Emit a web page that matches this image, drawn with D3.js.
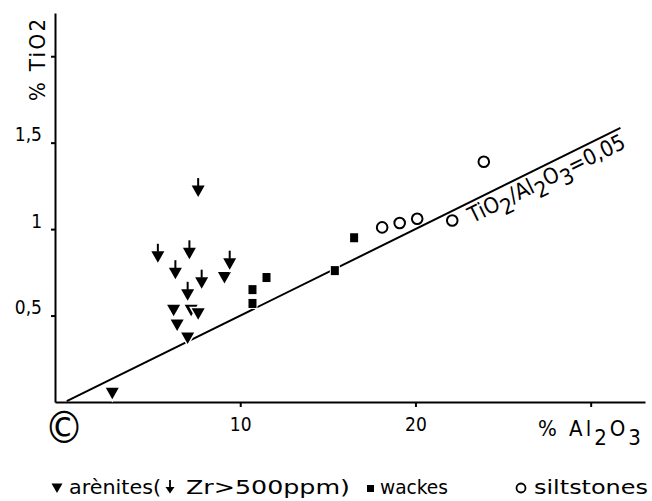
<!DOCTYPE html>
<html>
<head>
<meta charset="utf-8">
<script src="https://cdn.jsdelivr.net/npm/d3@7"></script>
<style>
body { margin: 0; background: #fff; }
text { font-family: "DejaVu Sans Condensed", "DejaVu Sans", sans-serif; fill: #000; }
</style>
</head>
<body>
<div id="chart"></div>
<script>
var width = 652, height = 501;

// arenites (plain triangles)
var areniteX = [2.7, 6.2, 7.2, 7.6, 6.4, 7.0, 9.1];
var areniteY = [0.05, 0.53, 0.53, 0.51, 0.445, 0.37, 0.72];
// arenites with Zr > 500 ppm (triangle with arrow stem)
var zrX = [7.6, 5.3, 7.1, 9.4, 6.3, 7.8, 7.0];
var zrY = [1.22, 0.84, 0.86, 0.80, 0.745, 0.69, 0.62];
// wackes (squares)
var wackeX = [11.5, 10.7, 10.7, 15.4, 16.5];
var wackeY = [0.72, 0.65, 0.57, 0.76, 0.95];
// siltstones (open circles)
var siltX = [18.1, 19.1, 20.1, 22.1, 23.9];
var siltY = [1.01, 1.035, 1.06, 1.05, 1.39];

// reference line TiO2/Al2O3 = 0,05
var lineRatio = 0.05;
var lineX = [0.1, 31.7];

var xTicks = [10, 20, 30];
var xTickLabels = ["10", "20", ""];
var yTicks = [0.5, 1, 1.5, 2];
var yTickLabels = ["0,5", "1", "1,5", ""];

var svg = d3.select("#chart")
    .append("svg")
        .attr("width", width)
        .attr("height", height);

var xScale = d3.scaleLinear().domain([-0.57, 33.1]).range([55, 645]);
var yScale = d3.scaleLinear().domain([0, 2.25]).range([402, 13]);

// x axis
var xAxis = svg.append("g")
    .attr("transform", "translate(0," + yScale(0) + ")")
    .call(d3.axisBottom(xScale)
        .tickValues(xTicks)
        .tickSize(5)
        .tickSizeOuter(0)
        .tickPadding(11)
        .tickFormat(function(d, i) { return xTickLabels[i]; }));

// y axis
var yAxis = svg.append("g")
    .attr("transform", "translate(" + xScale(-0.57) + ",0)")
    .call(d3.axisLeft(yScale)
        .tickValues(yTicks)
        .tickSize(4)
        .tickSizeOuter(0)
        .tickPadding(9)
        .tickFormat(function(d, i) { return yTickLabels[i]; }));
yAxis.selectAll(".tick text").attr("dy", "-0.1em");

[xAxis, yAxis].forEach(function(g) {
    g.attr("font-family", null).attr("font-size", null);
    g.select(".domain").attr("stroke-width", 2);
    g.selectAll(".tick line").attr("stroke-width", 2);
    g.selectAll(".tick text").style("font-size", "19px");
});

// ratio line
var line = d3.line()
    .x(function(d) { return xScale(d); })
    .y(function(d) { return yScale(d * lineRatio); });
svg.append("path")
    .datum(lineX)
    .attr("d", line)
    .attr("fill", "none")
    .attr("stroke", "#000")
    .attr("stroke-width", 2);

// line label
var angle = Math.atan2(yScale(0) - yScale(lineRatio * 10), xScale(10) - xScale(0)) * 180 / Math.PI;
var lab = svg.append("text")
    .attr("transform", "translate(" + xScale(22.6) + "," + yScale(22.6 * lineRatio) + ") rotate(" + (-angle) + ")")
    .attr("x", 3).attr("y", 20)
    .style("font-size", "22px");
lab.append("tspan").text("TiO");
lab.append("tspan").attr("dy", "0.35em").text("2");
lab.append("tspan").attr("dy", "-0.35em").text("/Al");
lab.append("tspan").attr("dy", "0.35em").text("2");
lab.append("tspan").attr("dy", "-0.35em").text("O");
lab.append("tspan").attr("dy", "0.35em").text("3");
lab.append("tspan").attr("dy", "-0.35em").text("=0,05");

// markers
var triPath = "M-6.5,-5.5L6.5,-5.5L0,6Z";

svg.append("g").selectAll("path")
    .data(d3.range(areniteX.length))
    .enter()
    .append("path")
        .attr("transform", function(i) { return "translate(" + xScale(areniteX[i]) + "," + yScale(areniteY[i]) + ")"; })
        .attr("d", triPath)
        .attr("fill", "#000")
        .attr("stroke", "#fff")
        .attr("stroke-width", 3)
        .attr("paint-order", "stroke");

var zr = svg.append("g").selectAll("g")
    .data(d3.range(zrX.length))
    .enter()
    .append("g")
        .attr("transform", function(i) { return "translate(" + xScale(zrX[i]) + "," + yScale(zrY[i]) + ")"; });
zr.append("path")
    .attr("d", triPath)
    .attr("fill", "#000")
    .attr("stroke", "#fff")
    .attr("stroke-width", 3)
    .attr("paint-order", "stroke");
zr.append("line")
    .attr("x1", 0).attr("x2", 0)
    .attr("y1", -5).attr("y2", -13)
    .attr("stroke", "#000")
    .attr("stroke-width", 2);

svg.append("g").selectAll("rect")
    .data(d3.range(wackeX.length))
    .enter()
    .append("rect")
        .attr("x", function(i) { return xScale(wackeX[i]) - 4; })
        .attr("y", function(i) { return yScale(wackeY[i]) - 4.5; })
        .attr("width", 8)
        .attr("height", 9)
        .attr("fill", "#000")
        .attr("stroke", "#fff")
        .attr("stroke-width", 2)
        .attr("paint-order", "stroke");

svg.append("g").selectAll("circle")
    .data(d3.range(siltX.length))
    .enter()
    .append("circle")
        .attr("cx", function(i) { return xScale(siltX[i]); })
        .attr("cy", function(i) { return yScale(siltY[i]); })
        .attr("r", 5.3)
        .attr("fill", "#fff")
        .attr("stroke", "#000")
        .attr("stroke-width", 2);

// axis titles
svg.append("text")
    .attr("transform", "translate(45,101) rotate(-90)")
    .attr("textLength", 82)
    .style("font-size", "22px")
    .text("% TiO2");

var xTitle = svg.append("text")
    .attr("x", 538).attr("y", 436)
    .style("font-size", "22px")
    .style("letter-spacing", "3px");
xTitle.append("tspan").text("% Al");
xTitle.append("tspan").attr("dy", "0.4em").text("2");
xTitle.append("tspan").attr("dy", "-0.4em").text("O");
xTitle.append("tspan").attr("dy", "0.4em").text("3");

svg.append("text")
    .attr("x", 64).attr("y", 443)
    .attr("text-anchor", "middle")
    .style("font-size", "44px")
    .text("\u00a9");

// legend
var legY = 494;
var leg = svg.append("g");
function legText(x, len, s) {
    leg.append("text")
        .attr("x", x).attr("y", legY)
        .attr("textLength", len)
        .attr("lengthAdjust", "spacingAndGlyphs")
        .style("font-size", "19px")
        .text(s);
}
leg.append("path")
    .attr("transform", "translate(57," + (legY - 6) + ")")
    .attr("d", "M-5.5,-4.5L5.5,-4.5L0,5Z")
    .attr("fill", "#000");
legText(69, 92, "arènites(");
var legArrow = leg.append("g").attr("transform", "translate(170," + (legY - 5) + ")");
legArrow.append("path").attr("d", "M-4.5,-2L4.5,-2L0,4.5Z").attr("fill", "#000");
legArrow.append("line").attr("x1", 0).attr("x2", 0).attr("y1", -2).attr("y2", -9)
    .attr("stroke", "#000").attr("stroke-width", 1.8);
legText(186, 164, "Zr>500ppm)");
leg.append("rect").attr("x", 367).attr("y", legY - 9).attr("width", 7).attr("height", 7).attr("fill", "#000");
legText(380, 68, "wackes");
leg.append("circle").attr("cx", 521).attr("cy", legY - 6).attr("r", 4.5)
    .attr("fill", "none").attr("stroke", "#000").attr("stroke-width", 1.8);
legText(534, 114, "siltstones");
</script>
</body>
</html>
